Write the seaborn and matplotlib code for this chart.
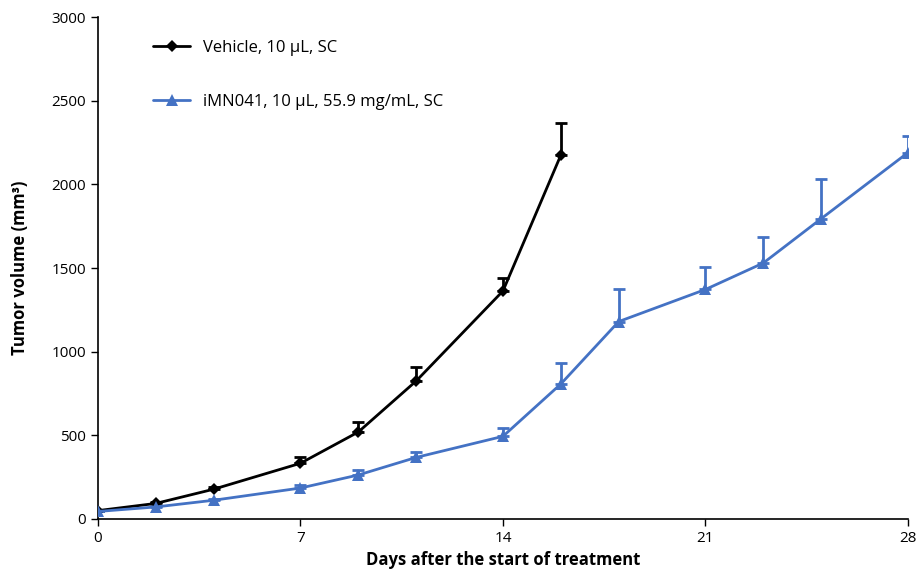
import matplotlib
matplotlib.use("Agg")
import matplotlib.pyplot as plt
import seaborn as sns
import pandas as pd
import numpy as np

days_vehicle = [0, 2, 4, 7, 9, 11, 14, 16]
vol_vehicle = [50, 93, 178, 333, 520, 825, 1363, 2175]
err_vehicle = [0, 8, 15, 35, 60, 82, 80, 192]

days_imn = [0, 2, 4, 7, 9, 11, 14, 16, 18, 21, 23, 25, 28]
vol_imn = [45, 72, 112, 185, 263, 368, 494, 807, 1180, 1372, 1530, 1795, 2190]
err_imn = [0, 5, 10, 20, 28, 35, 50, 125, 193, 135, 157, 237, 100]

label_vehicle = "Vehicle, 10 \u00b5L, SC"
label_imn = "iMN041, 10 \u00b5L, 55.9 mg/mL, SC"

sns.set_theme(style="ticks")
plt.rcParams['font.family'] = ['Open Sans', 'DejaVu Sans']
plt.rcParams['text.color'] = 'black'
plt.rcParams['axes.labelcolor'] = 'black'
plt.rcParams['xtick.color'] = 'black'
plt.rcParams['ytick.color'] = 'black'

df_v = pd.DataFrame({"day": days_vehicle, "vol": vol_vehicle})
df_i = pd.DataFrame({"day": days_imn, "vol": vol_imn})

fig = plt.figure(figsize=(9.19, 5.7), dpi=100)
ax = fig.add_axes([0.1066, 0.0895, 0.8814, 0.8805])

blue = "#4472C4"

ax.errorbar(days_vehicle, vol_vehicle, yerr=[np.zeros(len(err_vehicle)), err_vehicle],
            fmt='none', ecolor='black', elinewidth=2, capsize=4, capthick=2, zorder=2)
ax.errorbar(days_imn, vol_imn, yerr=[np.zeros(len(err_imn)), err_imn],
            fmt='none', ecolor=blue, elinewidth=2, capsize=4, capthick=2, zorder=2)

sns.lineplot(data=df_v, x="day", y="vol", color="black", marker="D", markersize=6.5,
             markeredgewidth=0, linewidth=2, label=label_vehicle, ax=ax, zorder=3)
sns.lineplot(data=df_i, x="day", y="vol", color=blue, marker="^", markersize=9,
             markeredgewidth=0, linewidth=2, label=label_imn, ax=ax, zorder=3)

ax.set_xlim(0, 28)
ax.set_ylim(0, 3000)
ax.set_xticks([0, 7, 14, 21, 28])
ax.set_yticks(range(0, 3001, 500))
ax.tick_params(axis='both', labelsize=11, direction='out', length=5, width=1, color='black')
for s in ['top', 'right']:
    ax.spines[s].set_visible(False)
for s in ['left', 'bottom']:
    ax.spines[s].set_color('black')
    ax.spines[s].set_linewidth(1.2)

ax.set_xlabel("Days after the start of treatment", fontsize=12, fontweight='bold', labelpad=4)
ax.set_ylabel("Tumor volume (mm\u00b3)", fontsize=12, fontweight='bold', labelpad=16)

leg = ax.legend(loc='upper left', bbox_to_anchor=(0.05, 0.985), frameon=False,
                fontsize=12, labelspacing=2.3, handlelength=2.2, handletextpad=0.8)

fig.savefig("out.png", dpi=100)
